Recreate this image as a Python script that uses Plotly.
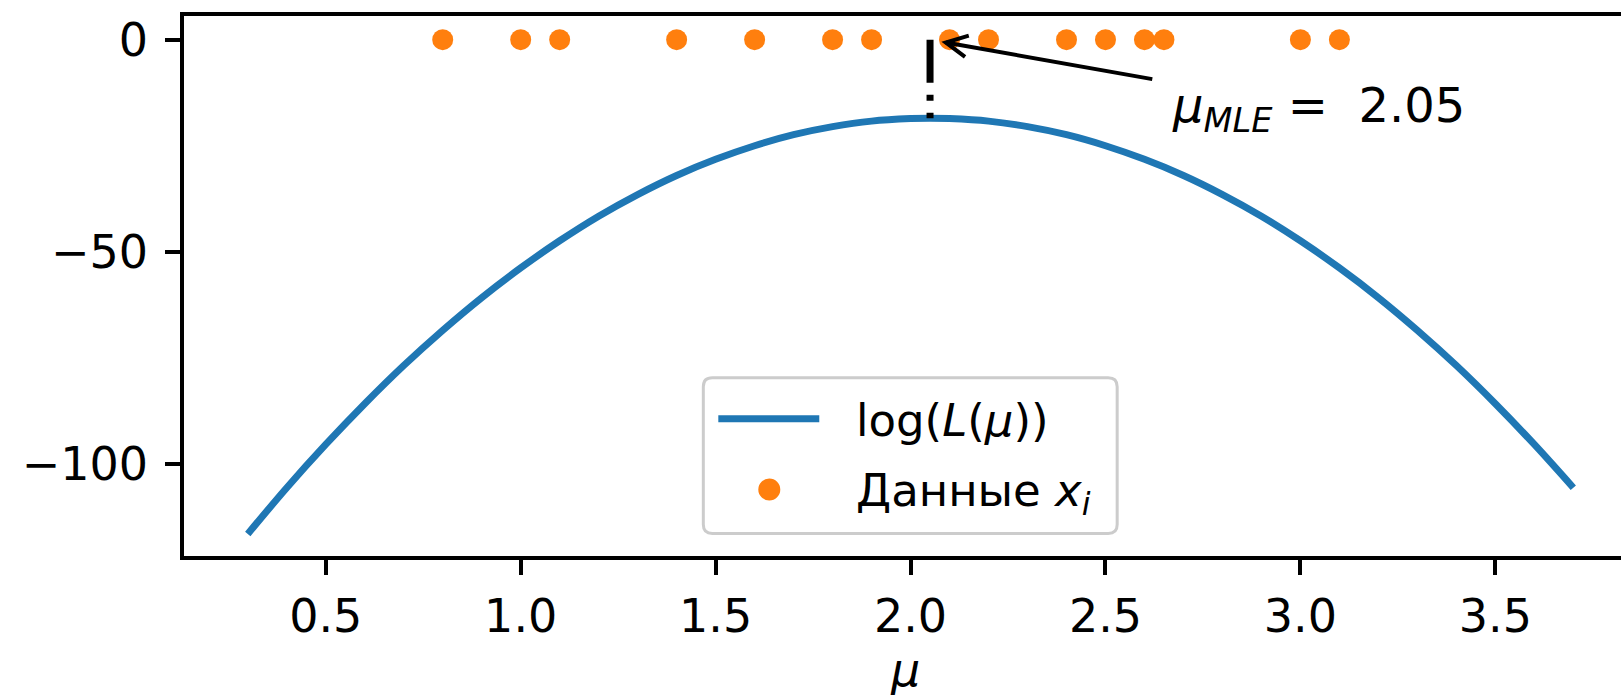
import math
import plotly.graph_objects as go

# Log-likelihood of the sample as a function of mu, sampled every 0.1
mu_grid = [0.3, 0.4, 0.5, 0.6, 0.7, 0.8, 0.9, 1.0, 1.1, 1.2, 1.3, 1.4, 1.5, 1.6,
           1.7, 1.8, 1.9, 2.0, 2.05, 2.1, 2.2, 2.3, 2.4, 2.5, 2.6, 2.7, 2.8, 2.9,
           3.0, 3.1, 3.2, 3.3, 3.4, 3.5, 3.6, 3.7]
log_lik = [-116.5, -105.6, -95.4, -85.8, -76.8, -68.5, -60.8, -53.8, -47.4, -41.6,
           -36.5, -32.0, -28.2, -25.0, -22.4, -20.5, -19.2, -18.6, -18.5, -18.6,
           -19.2, -20.5, -22.4, -25.0, -28.2, -32.0, -36.5, -41.6, -47.4, -53.8,
           -60.8, -68.5, -76.8, -85.8, -95.4, -105.6]

# Observed sample x_i (drawn on the zero line)
sample_x = [0.8, 1.0, 1.1, 1.4, 1.6, 1.8, 1.9, 2.1, 2.2, 2.4, 2.5, 2.6, 2.65, 3.0, 3.1]
sample_y = [0, 0, 0, 0, 0, 0, 0, 0, 0, 0, 0, 0, 0, 0, 0]

# Maximum likelihood estimate and the log-likelihood there
mu_mle = 2.05
log_lik_max = -18.5
label_pos = (2.62, -9.3)

x_ticks = [0.5, 1.0, 1.5, 2.0, 2.5, 3.0, 3.5]
x_tick_labels = ["0.5", "1.0", "1.5", "2.0", "2.5", "3.0", "3.5"]
y_ticks = [-100, -50, 0]
y_tick_labels = ["\u2212100", "\u221250", "0"]

BLUE = "#1f77b4"
ORANGE = "#ff7f0e"
FONT = "DejaVu Sans"
TICK_SIZE = 46
LEGEND_SIZE = 45

# Figure geometry (pixels)
W, H = 1621, 695
ML, MR, MT, MB = 183.5, 0, 16, 138.5
PW, PH = W - ML - MR, H - MT - MB
X_RANGE = [0.1364, 3.8223]
Y_RANGE = [-121.69, 5.58]


def x2px(x):
    return ML + (x - X_RANGE[0]) / (X_RANGE[1] - X_RANGE[0]) * PW


def y2px(y):
    return MT + (Y_RANGE[1] - y) / (Y_RANGE[1] - Y_RANGE[0]) * PH


def px2paper(px, py):
    return (px - ML) / PW, (H - MB - py) / PH


fig = go.Figure()

fig.add_trace(go.Scatter(
    x=mu_grid, y=log_lik, mode="lines", line=dict(color=BLUE, width=7, shape="spline"),
    name="log(L(\u03bc))", showlegend=False, hoverinfo="skip"))

fig.add_trace(go.Scatter(
    x=sample_x, y=sample_y, mode="markers",
    marker=dict(color=ORANGE, size=21, line=dict(width=0)),
    name="\u0414\u0430\u043d\u043d\u044b\u0435 x_i", showlegend=False, hoverinfo="skip"))

shapes = []

# dash-dot marker of the maximum
shapes.append(dict(type="line", xref="x", yref="y", x0=mu_mle, y0=0, x1=mu_mle, y1=log_lik_max,
                   line=dict(color="black", width=7, dash="43px,12px,6px,12px"), layer="above"))

# arrow from the label to the estimate on the zero line
tip_px = (x2px(mu_mle), y2px(0))
tail_px = (x2px(label_pos[0]), y2px(label_pos[1]))
dx, dy = tail_px[0] - tip_px[0], tail_px[1] - tip_px[1]
dist = math.hypot(dx, dy)
ux, uy = dx / dist, dy / dist
shrink = 16
tip = (tip_px[0] + ux * shrink, tip_px[1] + uy * shrink)
ang = math.atan2(uy, ux)
head_len = 24
arms = []
for s in (1, -1):
    a = ang + s * math.radians(26.6)
    arms.append((tip[0] + head_len * math.cos(a), tip[1] + head_len * math.sin(a)))

p_tail = px2paper(*tail_px)
p_tip = px2paper(*tip)
shapes.append(dict(type="line", xref="paper", yref="paper", x0=p_tail[0], y0=p_tail[1],
                   x1=p_tip[0], y1=p_tip[1], line=dict(color="black", width=4), layer="above"))
a1 = px2paper(*arms[0])
a2 = px2paper(*arms[1])
shapes.append(dict(type="path", xref="paper", yref="paper",
                   path=f"M {a1[0]},{a1[1]} L {p_tip[0]},{p_tip[1]} L {a2[0]},{a2[1]}",
                   line=dict(color="black", width=4), layer="above"))

# legend box with rounded corners
bx0, by0, bx1, by1, r = 703, 378, 1117, 534, 9
def P(px, py):
    q = px2paper(px, py)
    return f"{q[0]},{q[1]}"
box_path = (f"M {P(bx0 + r, by0)} L {P(bx1 - r, by0)} Q {P(bx1, by0)} {P(bx1, by0 + r)} "
            f"L {P(bx1, by1 - r)} Q {P(bx1, by1)} {P(bx1 - r, by1)} "
            f"L {P(bx0 + r, by1)} Q {P(bx0, by1)} {P(bx0, by1 - r)} "
            f"L {P(bx0, by0 + r)} Q {P(bx0, by0)} {P(bx0 + r, by0)} Z")
shapes.append(dict(type="path", xref="paper", yref="paper", path=box_path,
                   fillcolor="rgba(255,255,255,0.8)", line=dict(color="#cccccc", width=3),
                   layer="above"))
l0 = px2paper(718, 419)
l1 = px2paper(819, 419)
shapes.append(dict(type="line", xref="paper", yref="paper", x0=l0[0], y0=l0[1], x1=l1[0], y1=l1[1],
                   line=dict(color=BLUE, width=7), layer="above"))
c0 = px2paper(769 - 11, 490 - 11)
c1 = px2paper(769 + 11, 490 + 11)
shapes.append(dict(type="circle", xref="paper", yref="paper", x0=c0[0], y0=c0[1], x1=c1[0], y1=c1[1],
                   fillcolor=ORANGE, line=dict(width=0), layer="above"))

annotations = []
t1 = px2paper(854, 421)
annotations.append(dict(xref="paper", yref="paper", x=t1[0], y=t1[1], xanchor="left", yanchor="middle",
                        text="log(<i>L</i>(<i>\u03bc</i>))", showarrow=False,
                        font=dict(family=FONT, size=LEGEND_SIZE, color="black")))
t2 = px2paper(854, 493)
annotations.append(dict(xref="paper", yref="paper", x=t2[0], y=t2[1], xanchor="left", yanchor="middle",
                        text="\u0414\u0430\u043d\u043d\u044b\u0435 <i>x</i><sub><i>i</i></sub>",
                        showarrow=False, font=dict(family=FONT, size=LEGEND_SIZE, color="black")))
t3 = px2paper(1170, 109)
annotations.append(dict(xref="paper", yref="paper", x=t3[0], y=t3[1], xanchor="left", yanchor="middle",
                        text=f"<i>\u03bc</i><sub><i>MLE</i></sub> =\u00a0 {mu_mle:.2f}",
                        showarrow=False, font=dict(family=FONT, size=48, color="black")))
t4 = px2paper(905, 671)
annotations.append(dict(xref="paper", yref="paper", x=t4[0], y=t4[1], xanchor="center", yanchor="middle",
                        text="<i>\u03bc</i>", showarrow=False,
                        font=dict(family=FONT, size=TICK_SIZE, color="black")))

fig.update_layout(
    width=W, height=H,
    margin=dict(l=ML, r=MR, t=MT, b=MB, pad=0),
    paper_bgcolor="white", plot_bgcolor="white",
    font=dict(family=FONT, size=TICK_SIZE, color="black"),
    shapes=shapes, annotations=annotations,
    xaxis=dict(range=X_RANGE, tickvals=x_ticks, ticktext=x_tick_labels,
               showgrid=False, zeroline=False, showline=True, mirror=True,
               linecolor="black", linewidth=3.5, ticks="outside", ticklen=15,
               tickwidth=3.5, tickcolor="black", ticklabelstandoff=2,
               tickfont=dict(family=FONT, size=TICK_SIZE)),
    yaxis=dict(range=Y_RANGE, tickvals=y_ticks, ticktext=y_tick_labels,
               showgrid=False, zeroline=False, showline=True, mirror=False,
               linecolor="black", linewidth=3.5, ticks="outside", ticklen=15,
               tickwidth=3.5, tickcolor="black", ticklabelstandoff=8,
               tickfont=dict(family=FONT, size=TICK_SIZE)),
)

fig.write_html("out.html")
